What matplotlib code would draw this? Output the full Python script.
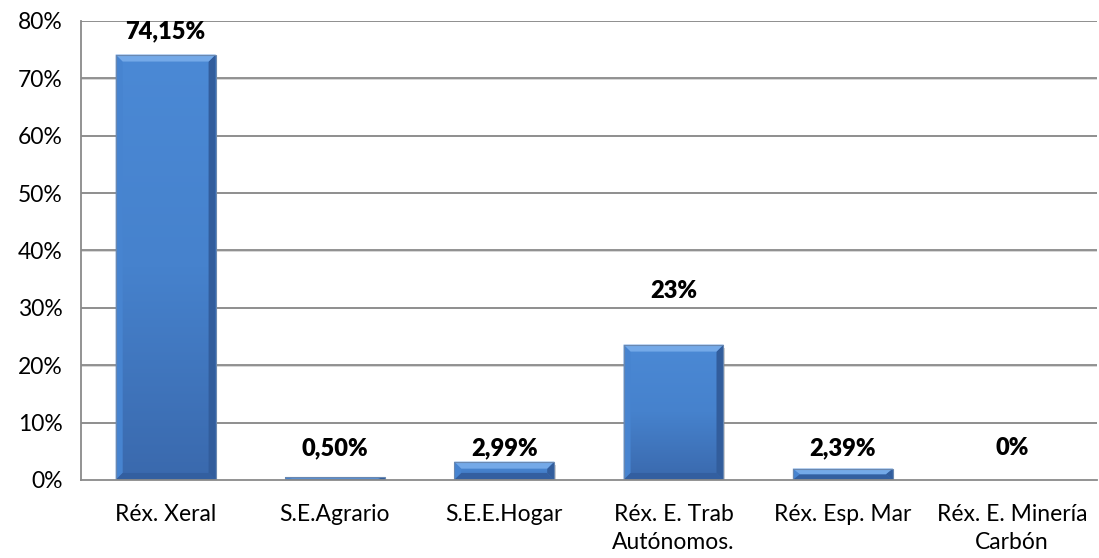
import numpy as np
import matplotlib
matplotlib.use("Agg")
import matplotlib.pyplot as plt
from matplotlib.patches import Polygon, Rectangle
from matplotlib.colors import LinearSegmentedColormap

plt.rcParams['font.family'] = ['Lato', 'DejaVu Sans']

categories = ['Réx. Xeral', 'S.E.Agrario', 'S.E.E.Hogar',
              'Réx. E. Trab\nAutónomos.', 'Réx. Esp. Mar', 'Réx. E. Minería\nCarbón']
heights = [74.15, 0.5, 3.2, 23.6, 2.0, 0.0]
labels = ['74,15%', '0,50%', '2,99%', '23%', '2,39%', '0%']
label_y = [78.2, 5.6, 5.6, 32.9, 5.6, 5.6]

fig = plt.figure(figsize=(10.99, 5.58), dpi=100)
ax = fig.add_axes([0.0737, 0.1398, 0.9243, 0.8226])

x = np.arange(len(categories))
width = 0.59
ax.set_xlim(-0.5, len(categories) - 0.5)
ax.set_ylim(0, 80)

# gridlines with a faint shadow
for v in range(10, 81, 10):
    ax.axhline(v - 0.05, color='#d0d0d0', lw=1.2, zorder=0.5)
    ax.axhline(v, color='#8a8a8a', lw=1.3, zorder=0.6)

face = LinearSegmentedColormap.from_list('face', ['#3a69ad', '#4682cd', '#4b89d5'])
grad = np.linspace(0, 1, 256).reshape(-1, 1)

bars = ax.bar(x, heights, width=width, color='#4a86d0', zorder=2, lw=0)

px_x = 1.0 / (0.9243 * 1099 / 6)
px_y = 80.0 / (0.8226 * 558)

for b, h in zip(bars, heights):
    if h <= 0:
        continue
    x0, x1 = b.get_x(), b.get_x() + b.get_width()
    y0, y1 = 0, h
    # shadow
    ax.add_patch(Rectangle((x0 + 1.5 * px_x, y0 - 3 * px_y), x1 - x0, h,
                           color='#808080', alpha=0.35, lw=0, zorder=1.5))
    im = ax.imshow(grad, cmap=face, extent=(x0, x1, y0, y1), origin='lower',
                   aspect='auto', zorder=2.1)
    im.set_clip_path(b)
    bx = 7 * px_x
    by = min(7 * px_y, h / 2)
    ax.add_patch(Polygon([(x0, y1), (x1, y1), (x1 - bx, y1 - by), (x0 + bx, y1 - by)],
                         closed=True, color='#74a9e8', lw=0, zorder=2.3))
    ax.add_patch(Polygon([(x0, y0), (x0, y1), (x0 + bx, y1 - by), (x0 + bx, y0 + by)],
                         closed=True, color='#4784d0', lw=0, zorder=2.2))
    ax.add_patch(Polygon([(x1, y0), (x1, y1), (x1 - bx, y1 - by), (x1 - bx, y0 + by)],
                         closed=True, color='#325d9c', lw=0, zorder=2.2))
    ax.add_patch(Polygon([(x0, y0), (x1, y0), (x1 - bx, y0 + by), (x0 + bx, y0 + by)],
                         closed=True, color='#335fa0', lw=0, zorder=2.2))
    ax.add_patch(Rectangle((x0, y0), x1 - x0, h, fill=False, ec='#6a88b0',
                           lw=0.8, zorder=2.4))

for xi, lab, ly in zip(x, labels, label_y):
    ax.text(xi, ly, lab, ha='center', va='center', fontsize=17, fontweight='heavy',
            color='black', zorder=3)

ax.set_yticks(range(0, 81, 10))
ax.set_yticklabels([f'{v}%' for v in range(0, 81, 10)], fontsize=16.5)
ax.set_xticks(x)
ax.set_xticklabels(categories, fontsize=16.5, linespacing=1.45)
ax.tick_params(axis='both', length=0)
ax.tick_params(axis='y', pad=13)
ax.tick_params(axis='x', pad=17)

for s in ['top', 'right']:
    ax.spines[s].set_visible(False)
ax.spines['left'].set_color('#8a8a8a')
ax.spines['left'].set_linewidth(1.3)
ax.spines['bottom'].set_color('#8a8a8a')
ax.spines['bottom'].set_linewidth(1.3)

fig.savefig('out.png', dpi=100)
